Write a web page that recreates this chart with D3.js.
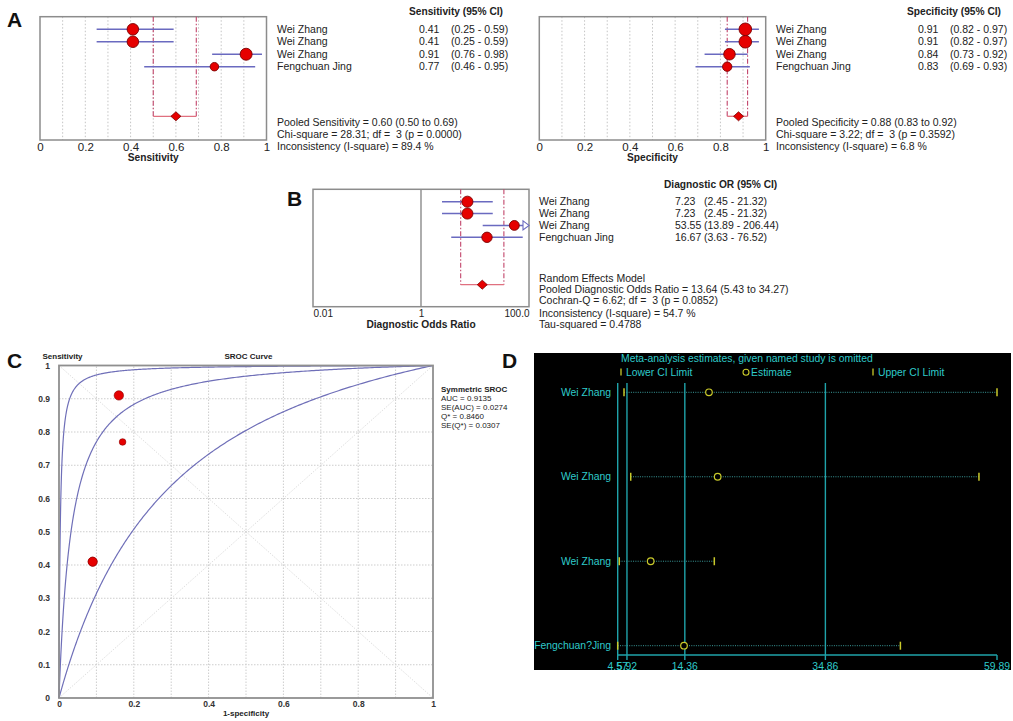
<!DOCTYPE html>
<html>
<head>
<meta charset="utf-8">
<script src="https://cdn.jsdelivr.net/npm/d3@7"></script>
<style>
  body { margin: 0; background: #fff; }
  svg { display: block; }
  text { white-space: pre; }
</style>
</head>
<body>
<div id="container"></div>
<script>
// ---- data ----
const studies = ["Wei Zhang", "Wei Zhang", "Wei Zhang", "Fengchuan Jing"];

const sensEst = [0.41, 0.41, 0.91, 0.77];
const sensLo = [0.25, 0.25, 0.76, 0.46];
const sensHi = [0.59, 0.59, 0.98, 0.95];
const sensWeight = [26, 26, 28, 14];
const sensPooled = [0.60, 0.50, 0.69];
const sensStats = ["Pooled Sensitivity = 0.60 (0.50 to 0.69)",
                   "Chi-square = 28.31; df =  3 (p = 0.0000)",
                   "Inconsistency (I-square) = 89.4 %"];

const specEst = [0.91, 0.91, 0.84, 0.83];
const specLo = [0.82, 0.82, 0.73, 0.69];
const specHi = [0.97, 0.97, 0.92, 0.93];
const specWeight = [31, 31, 26, 17];
const specPooled = [0.88, 0.83, 0.92];
const specStats = ["Pooled Specificity = 0.88 (0.83 to 0.92)",
                   "Chi-square = 3.22; df =  3 (p = 0.3592)",
                   "Inconsistency (I-square) = 6.8 %"];

const dorEst = [7.23, 7.23, 53.55, 16.67];
const dorLo = [2.45, 2.45, 13.89, 3.63];
const dorHi = [21.32, 21.32, 206.44, 76.52];
const dorWeight = [24, 24, 19, 21];
const dorPooled = [13.64, 5.43, 34.27];
const dorStats = ["Random Effects Model",
                  "Pooled Diagnostic Odds Ratio = 13.64 (5.43 to 34.27)",
                  "Cochran-Q = 6.62; df =  3 (p = 0.0852)",
                  "Inconsistency (I-square) = 54.7 %",
                  "Tau-squared = 0.4788"];

const unitTicks = [0, 0.2, 0.4, 0.6, 0.8, 1];
const dorTicks = [0.01, 1, 100];

// SROC: Q* of the curve and of its two confidence curves
const srocQ = [0.946, 0.846, 0.67];
const srocStats = ["AUC = 0.9135", "SE(AUC) = 0.0274", "Q* = 0.8460", "SE(Q*) = 0.0307"];

// leave-one-out (panel D)
const looNames = ["Wei Zhang", "Wei Zhang", "Wei Zhang", "Fengchuan?Jing"];
const looLo = [5.49, 6.47, 4.80, 4.57];
const looEst = [17.88, 19.15, 9.38, 14.24];
const looHi = [59.89, 57.26, 18.66, 45.80];
const looTicks = [4.57, 5.92, 14.36, 34.86, 59.89];

// ---- drawing ----
const FONT = '"Liberation Sans", Arial, sans-serif';
const svg = d3.select("#container").append("svg")
  .attr("width", 1013).attr("height", 721)
  .attr("font-family", FONT)
  .style("background", "#fff");

const fmt2 = d3.format(".2f");

function forest(cfg) {
  const g = svg.append("g");
  const x = cfg.x;
  const [x0, x1] = x.range();
  const xmax = x.domain()[1];
  const y = d3.scalePoint(d3.range(studies.length), cfg.rows);

  if (cfg.grid) {
    g.selectAll(".grid").data(cfg.grid).join("line")
      .attr("x1", d => x(d)).attr("x2", d => x(d))
      .attr("y1", cfg.top).attr("y2", cfg.bottom)
      .attr("stroke", "#c4c4c4").attr("stroke-dasharray", "1.5,2");
  }
  if (cfg.refLine) {
    g.append("line").attr("x1", x(cfg.refLine)).attr("x2", x(cfg.refLine))
      .attr("y1", cfg.top).attr("y2", cfg.bottom).attr("stroke", "#777").attr("stroke-width", 1.2);
  }
  g.append("rect").attr("x", x0).attr("y", cfg.top)
    .attr("width", x1 - x0).attr("height", cfg.bottom - cfg.top)
    .attr("fill", "none").attr("stroke", "#8c8c8c").attr("stroke-width", 1.5);

  // pooled estimate
  const [pe, pl, ph] = cfg.pooled;
  g.selectAll(".pv").data([pl, ph]).join("line")
    .attr("x1", d => x(d)).attr("x2", d => x(d))
    .attr("y1", cfg.top).attr("y2", cfg.pooledY)
    .attr("stroke", "#c2456b").attr("stroke-width", 1.1)
    .attr("stroke-dasharray", "5,2,1.5,2");
  g.append("line").attr("x1", x(pl)).attr("x2", x(ph))
    .attr("y1", cfg.pooledY).attr("y2", cfg.pooledY)
    .attr("stroke", "#e0707f").attr("stroke-width", 1.3);
  const px = x(pe), py = cfg.pooledY;
  g.append("polygon")
    .attr("points", [[px - 5, py], [px, py - 4.5], [px + 5, py], [px, py + 4.5]].join(" "))
    .attr("fill", "#e60000").attr("stroke", "#7a0000").attr("stroke-width", 0.8);

  // study CIs
  const idx = d3.range(studies.length);
  g.selectAll(".ci").data(idx).join("line")
    .attr("x1", i => x(cfg.lo[i]))
    .attr("x2", i => cfg.hi[i] > xmax ? x1 - 5 : x(cfg.hi[i]))
    .attr("y1", i => y(i)).attr("y2", i => y(i))
    .attr("stroke", "#6a6ac0").attr("stroke-width", 1.5);
  g.selectAll(".arrow").data(idx.filter(i => cfg.hi[i] > xmax)).join("polygon")
    .attr("points", i => [[x1, y(i)], [x1 - 6, y(i) - 4.5], [x1 - 6, y(i) + 4.5]].join(" "))
    .attr("fill", "#fff").attr("stroke", "#6a6ac0").attr("stroke-width", 1.1);
  const r = d3.scaleSqrt([0, 30], [0, 6.2]);
  g.selectAll(".pt").data(idx).join("circle")
    .attr("cx", i => x(cfg.est[i])).attr("cy", i => y(i))
    .attr("r", i => r(cfg.w[i]))
    .attr("fill", "#e60000").attr("stroke", "#7a0000").attr("stroke-width", 0.9);

  // axis
  const ax = g.append("g").attr("transform", `translate(0,${cfg.bottom})`)
    .call(d3.axisBottom(x).tickValues(cfg.ticks).tickFormat(cfg.fmt).tickSize(0).tickPadding(3));
  ax.select(".domain").remove();
  ax.attr("font-family", FONT).attr("font-size", cfg.tickSize);
  ax.selectAll("text").attr("fill", "#222");
  if (cfg.edgeAnchor) {
    ax.selectAll("text").attr("text-anchor", (d, i, n) => i === 0 ? "start" : i === n.length - 1 ? "end" : "middle");
  }
  g.append("text").attr("x", (x0 + x1) / 2).attr("y", cfg.bottom + 21)
    .attr("text-anchor", "middle").attr("font-size", 10.2).attr("font-weight", "bold")
    .attr("fill", "#222").text(cfg.label);

  // text columns
  const t = svg.append("g").attr("font-size", 10.5).attr("fill", "#222");
  t.append("text").attr("x", cfg.headX).attr("y", cfg.headY + 3.5).attr("font-size", 10.2)
    .attr("text-anchor", cfg.headAnchor).attr("font-weight", "bold").text(cfg.head);
  t.selectAll(".nm").data(idx).join("text")
    .attr("x", cfg.cols[0]).attr("y", i => y(i) + 3.7).text(i => studies[i]);
  t.selectAll(".vl").data(idx).join("text")
    .attr("x", cfg.cols[1]).attr("y", i => y(i) + 3.7).text(i => fmt2(cfg.est[i]));
  t.selectAll(".cv").data(idx).join("text")
    .attr("x", cfg.cols[2]).attr("y", i => y(i) + 3.7)
    .text(i => `(${fmt2(cfg.lo[i])} - ${fmt2(cfg.hi[i])})`);
  t.selectAll(".st").data(cfg.stats).join("text")
    .attr("x", cfg.cols[0]).attr("y", (d, i) => cfg.statsY[i] + 3.7).text(d => d);
}

const unitFmt = d => d === 0 ? "0" : d === 1 ? "1" : d3.format(".1f")(d);
const grid9 = d3.range(1, 10).map(i => i / 10);

// Panel A – sensitivity
forest({
  x: d3.scaleLinear([0, 1], [40, 266.5]), top: 16.7, bottom: 140,
  rows: [29.3, 66.7], pooledY: 116.3, grid: grid9,
  est: sensEst, lo: sensLo, hi: sensHi, w: sensWeight, pooled: sensPooled,
  ticks: unitTicks, fmt: unitFmt, tickSize: 11.5, label: "Sensitivity",
  head: "Sensitivity (95% CI)", headX: 503, headY: 11.7, headAnchor: "end",
  cols: [277, 419, 451], stats: sensStats, statsY: [122.7, 134, 146.3]
});
// Panel A – specificity
forest({
  x: d3.scaleLinear([0, 1], [539.3, 765.7]), top: 16.7, bottom: 140,
  rows: [29.3, 66.7], pooledY: 116.3, grid: grid9,
  est: specEst, lo: specLo, hi: specHi, w: specWeight, pooled: specPooled,
  ticks: unitTicks, fmt: unitFmt, tickSize: 11.5, label: "Specificity",
  head: "Specificity (95% CI)", headX: 1001, headY: 11.7, headAnchor: "end",
  cols: [776, 918, 950], stats: specStats, statsY: [122.7, 134, 146.3]
});
// Panel B – diagnostic OR
forest({
  x: d3.scaleLog([0.01, 100], [313, 529]), top: 189.3, bottom: 306.7,
  rows: [201.7, 237.3], pooledY: 284.7, refLine: 1,
  est: dorEst, lo: dorLo, hi: dorHi, w: dorWeight, pooled: dorPooled,
  ticks: dorTicks, fmt: d => d === 100 ? "100.0" : d === 1 ? "1" : "0.01",
  tickSize: 10, edgeAnchor: true, label: "Diagnostic Odds Ratio",
  head: "Diagnostic OR (95% CI)", headX: 664, headY: 184, headAnchor: "start",
  cols: [539, 675, 704], stats: dorStats, statsY: [278.5, 289.5, 300.5, 312.8, 324.3]
});

// Panel C – SROC
(function () {
  const g = svg.append("g");
  const x = d3.scaleLinear([0, 1], [59, 433]);
  const y = d3.scaleLinear([0, 1], [698, 365.5]);
  g.selectAll(".gx").data(grid9).join("line")
    .attr("x1", d => x(d)).attr("x2", d => x(d)).attr("y1", y(0)).attr("y2", y(1))
    .attr("stroke", "#cdcdcd").attr("stroke-dasharray", "1.5,1.5");
  g.selectAll(".gy").data(grid9).join("line")
    .attr("y1", d => y(d)).attr("y2", d => y(d)).attr("x1", x(0)).attr("x2", x(1))
    .attr("stroke", "#cdcdcd").attr("stroke-dasharray", "1.5,1.5");
  g.selectAll(".diag").data([[0, 0, 1, 1], [0, 1, 1, 0]]).join("line")
    .attr("x1", d => x(d[0])).attr("y1", d => y(d[1])).attr("x2", d => x(d[2])).attr("y2", d => y(d[3]))
    .attr("stroke", "#d6d6d6").attr("stroke-dasharray", "1,1.5");

  const logit = p => Math.log(p / (1 - p));
  const fprs = [0].concat(d3.range(1, 400).map(i => Math.pow(i / 400, 3)), [1]);
  const line = d3.line().x(d => x(d[0])).y(d => y(d[1]));
  srocQ.forEach(q => {
    const D = 2 * logit(q);
    const pts = fprs.map(f => [f, f <= 0 ? 0 : f >= 1 ? 1 : 1 / (1 + Math.exp(-(D + logit(f))))]);
    g.append("path").attr("d", line(pts)).attr("fill", "none")
      .attr("stroke", "#6f6fb8").attr("stroke-width", 1.2);
  });
  g.append("rect").attr("x", x(0)).attr("y", y(1)).attr("width", x(1) - x(0)).attr("height", y(0) - y(1))
    .attr("fill", "none").attr("stroke", "#8f8f8f").attr("stroke-width", 1.8);

  const r = d3.scaleSqrt([0, 28], [0, 4.7]);
  g.selectAll(".pt").data(d3.range(studies.length)).join("circle")
    .attr("cx", i => x(1 - specEst[i])).attr("cy", i => y(sensEst[i]))
    .attr("r", i => r(sensWeight[i]))
    .attr("fill", "#e60000").attr("stroke", "#8a0000").attr("stroke-width", 0.6);

  const ay = g.append("g").attr("transform", `translate(${x(0)},0)`)
    .call(d3.axisLeft(y).tickValues(d3.range(0, 11).map(i => i / 10)).tickFormat(unitFmt).tickSize(0).tickPadding(9));
  ay.select(".domain").remove();
  ay.attr("font-family", FONT).attr("font-size", 8.5).attr("font-weight", "bold");
  ay.selectAll("text").attr("fill", "#333");
  const axb = g.append("g").attr("transform", `translate(0,${y(0)})`)
    .call(d3.axisBottom(x).tickValues(unitTicks).tickFormat(unitFmt).tickSize(0).tickPadding(3));
  axb.select(".domain").remove();
  axb.attr("font-family", FONT).attr("font-size", 8.5).attr("font-weight", "bold");
  axb.selectAll("text").attr("fill", "#333");

  const t = g.append("g").attr("font-size", 8).attr("fill", "#222");
  t.append("text").attr("x", 42.5).attr("y", 358.5).attr("font-weight", "bold").text("Sensitivity");
  t.append("text").attr("x", 248.5).attr("y", 358.5).attr("text-anchor", "middle").attr("font-weight", "bold").text("SROC Curve");
  t.append("text").attr("x", x(0.5)).attr("y", 716).attr("text-anchor", "middle").attr("font-weight", "bold").text("1-specificity");
  t.append("text").attr("x", 441).attr("y", 392).attr("font-weight", "bold").text("Symmetric SROC");
  t.selectAll(".ss").data(srocStats).join("text")
    .attr("x", 441).attr("y", (d, i) => 401 + i * 9).text(d => d);
})();

// Panel D – leave-one-out
(function () {
  const g = svg.append("g");
  const cyan = "#2fcaca", line = "#1fa3aa", yel = "#c9c92a";
  g.append("rect").attr("x", 534).attr("y", 353).attr("width", 477).attr("height", 317).attr("fill", "#000");
  const x = d3.scaleLinear([4.57, 59.89], [617.7, 997]);
  const y = d3.scalePoint(d3.range(looNames.length), [392.3, 645.7]);
  const axisY = 655;
  g.selectAll(".vl").data(looTicks.slice(0, 4)).join("line")
    .attr("x1", d => x(d)).attr("x2", d => x(d)).attr("y1", 383).attr("y2", axisY + 5)
    .attr("stroke", line).attr("stroke-width", 1.4);
  g.append("line").attr("x1", x(looTicks[0])).attr("x2", x(looTicks[4]))
    .attr("y1", axisY).attr("y2", axisY).attr("stroke", line).attr("stroke-width", 1.6);
  g.append("line").attr("x1", x(looTicks[4])).attr("x2", x(looTicks[4]))
    .attr("y1", axisY).attr("y2", axisY + 5).attr("stroke", line).attr("stroke-width", 1.4);
  g.selectAll(".tl").data(looTicks).join("text")
    .attr("x", d => x(d)).attr("y", axisY + 15).attr("text-anchor", "middle")
    .attr("font-size", 10.4).attr("fill", cyan).text(d => d3.format(".2f")(d));

  const idx = d3.range(looNames.length);
  g.selectAll(".dl").data(idx).join("line")
    .attr("x1", i => x(looLo[i])).attr("x2", i => x(looHi[i]))
    .attr("y1", i => y(i)).attr("y2", i => y(i))
    .attr("stroke", "#3a9a9a").attr("stroke-dasharray", "1,1.3");
  g.selectAll(".lt").data(idx.flatMap(i => [[looLo[i], i], [looHi[i], i]])).join("line")
    .attr("x1", d => x(d[0])).attr("x2", d => x(d[0]))
    .attr("y1", d => y(d[1]) - 4).attr("y2", d => y(d[1]) + 4)
    .attr("stroke", yel).attr("stroke-width", 1.5);
  g.selectAll(".es").data(idx).join("circle")
    .attr("cx", i => x(looEst[i])).attr("cy", i => y(i)).attr("r", 3.3)
    .attr("fill", "#000").attr("stroke", yel).attr("stroke-width", 1.2);
  g.selectAll(".nm").data(idx).join("text")
    .attr("x", 611).attr("y", i => y(i) + 3.7).attr("text-anchor", "end")
    .attr("font-size", 10.4).attr("fill", cyan).text(i => looNames[i]);

  g.append("text").attr("x", 621).attr("y", 361.5).attr("font-size", 10.4).attr("fill", cyan)
    .text("Meta-analysis estimates, given named study is omitted");
  const leg = [[621, "tick", "Lower CI Limit"], [746, "circle", "Estimate"], [873, "tick", "Upper CI Limit"]];
  leg.forEach(([lx, kind, label]) => {
    if (kind === "tick") {
      g.append("line").attr("x1", lx).attr("x2", lx).attr("y1", 368.5).attr("y2", 375.5)
        .attr("stroke", yel).attr("stroke-width", 1.3);
    } else {
      g.append("circle").attr("cx", lx).attr("cy", 372.3).attr("r", 3)
        .attr("fill", "none").attr("stroke", yel).attr("stroke-width", 1.1);
    }
    g.append("text").attr("x", lx + 5).attr("y", 375.8)
      .attr("font-size", 10.4).attr("fill", cyan).text(label);
  });
})();

// panel letters
svg.selectAll(".letter").data([["A", 7, 27], ["B", 287, 206], ["C", 7, 368], ["D", 502, 368]]).join("text")
  .attr("x", d => d[1]).attr("y", d => d[2])
  .attr("font-size", 21).attr("font-weight", "bold").attr("fill", "#111").text(d => d[0]);
</script>
</body>
</html>
